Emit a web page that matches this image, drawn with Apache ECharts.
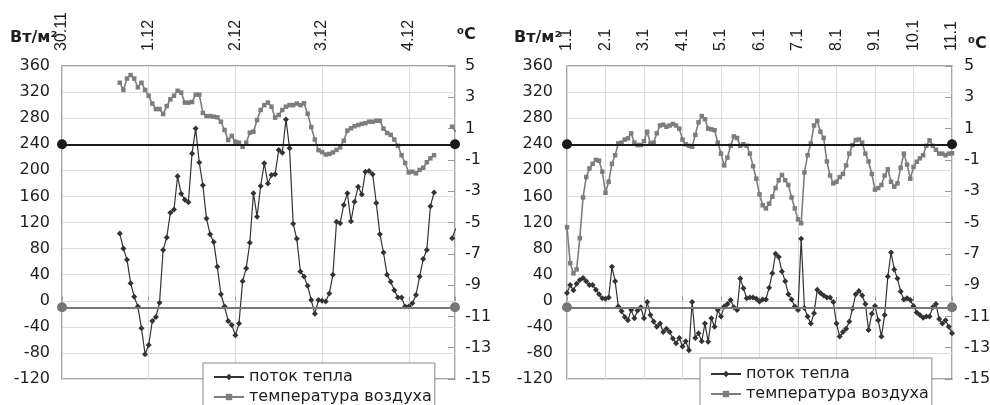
<!DOCTYPE html>
<html><head><meta charset="utf-8">
<script src="https://cdn.jsdelivr.net/npm/echarts@6/dist/echarts.min.js"></script>
<style>html,body{margin:0;padding:0;background:#fff}#c{width:990px;height:405px}</style>
</head><body><div id="c"></div>
<script>
// ---------- data: left chart (30.11 - 4.12), hourly ----------
const leftDayLabels = ['30.11', '1.12', '2.12', '3.12', '4.12'];
const leftStartHour = 16;
const leftFlux = [103,80,63,27,6,-9,-42,-82,-68,-31,-25,-3,78,97,135,140,191,164,155,151,
  226,264,212,177,126,102,90,52,10,-9,-31,-37,-53,-35,30,50,89,165,129,176,
  211,180,193,194,231,227,278,234,118,95,45,37,23,1,-20,1,0,-1,11,40,
  121,119,147,165,122,152,175,163,198,199,194,150,102,74,40,29,16,5,5,-9,
  -9,-4,9,37,64,78,145,166];
const leftTemp = [3.93,3.47,4.2,4.42,4.2,3.64,3.93,3.47,3.1,2.6,2.25,2.25,1.93,2.44,2.87,3.1,3.42,3.3,2.66,2.66,
  2.7,3.17,3.17,2.0,1.8,1.8,1.76,1.72,1.44,0.91,0.27,0.53,0.16,0.1,-0.16,0.1,0.74,0.8,1.55,2.19,
  2.5,2.66,2.4,1.7,1.87,2.19,2.4,2.5,2.5,2.6,2.5,2.62,1.95,1.1,0.3,-0.38,-0.5,-0.66,-0.62,-0.52,
  -0.36,-0.2,0.23,0.87,1.02,1.15,1.23,1.3,1.35,1.44,1.44,1.5,1.5,1.0,0.72,0.6,0.3,-0.1,-0.7,-1.2,
  -1.8,-1.75,-1.86,-1.64,-1.5,-1.15,-0.9,-0.7];
const leftTailHours = [108, 109];
const leftTailFlux = [96, 111];
const leftTailTemp = [1.12, 0.8];

// ---------- data: right chart (1.1 - 11.1), every 2 hours ----------
const rightDayLabels = ['1.1','2.1','3.1','4.1','5.1','6.1','7.1','8.1','9.1','10.1','11.1'];
const rightStepHours = 2;
const rightFlux = [12,24,16,26,32,35,30,24,24,17,
  10,4,3,5,52,30,-9,-16,-25,-30,
  -14,-27,-15,-10,-27,-2,-22,-32,-40,-35,
  -48,-43,-48,-58,-65,-57,-70,-62,-76,-2,
  -57,-50,-62,-35,-63,-27,-40,-14,-24,-9,
  -5,1,-10,-14,34,19,4,5,5,3,
  -1,2,2,20,42,72,67,45,30,10,
  2,-9,-14,95,-11,-24,-35,-19,17,12,
  8,5,5,-2,-35,-55,-48,-43,-32,-12,
  10,15,8,-5,-45,-20,-8,-30,-55,-22,
  37,74,48,34,14,2,4,1,-8,-18,
  -22,-26,-24,-24,-10,-5,-28,-35,-30,-40,
  -50];
const rightTemp = [-5.3,-7.6,-8.25,-8.0,-6.0,-3.4,-2.1,-1.55,-1.25,-1.0,
  -1.05,-1.75,-3.1,-2.4,-1.25,-0.7,0.06,0.1,0.3,0.38,
  0.7,0.1,-0.05,-0.05,0.2,0.8,0.05,0.1,0.7,1.2,
  1.25,1.12,1.2,1.3,1.2,1.0,0.3,0.0,-0.1,-0.16,
  0.6,1.4,1.8,1.6,1.0,0.95,0.9,0.1,-0.6,-1.35,
  -0.85,-0.1,0.5,0.4,-0.1,0.0,-0.1,-0.6,-1.4,-2.2,
  -3.2,-3.9,-4.1,-3.8,-3.35,-2.8,-2.3,-1.96,-2.3,-2.6,
  -3.4,-4.1,-4.8,-5.05,-1.8,-0.7,0.05,1.2,1.5,0.8,
  0.4,-1.1,-2.0,-2.5,-2.4,-2.1,-1.9,-1.35,-0.6,-0.05,
  0.27,0.3,0.1,-0.6,-1.1,-1.9,-2.9,-2.8,-2.6,-2.0,
  -1.6,-2.4,-2.71,-2.5,-1.5,-0.6,-1.3,-2.2,-1.45,-1.12,
  -0.9,-0.7,-0.1,0.25,-0.1,-0.35,-0.6,-0.6,-0.7,-0.6,
  -0.58];

const seriesNames = ['поток тепла', 'температура воздуха'];
const unitLeft = 'Вт/м²';
const unitRight = '⁰C';

// ---------- build ----------
function hourly(vals, start, step) { return vals.map((v, i) => [start + i * step, v]); }
const lFluxData = hourly(leftFlux, leftStartHour, 1)
  .concat([[leftTailHours[0] - 1, '-']])
  .concat(leftTailHours.map((h, i) => [h, leftTailFlux[i]]));
const lTempData = hourly(leftTemp, leftStartHour, 1)
  .concat([[leftTailHours[0] - 1, '-']])
  .concat(leftTailHours.map((h, i) => [h, leftTailTemp[i]]));
const rFluxData = hourly(rightFlux, 0, rightStepHours);
const rTempData = hourly(rightTemp, 0, rightStepHours);

const TXT = '#1e1e1e';
const H_FONT = 'DejaVu Sans';
const V_FONT = 'Liberation Sans';
const FLUX_COLOR = '#333333';
const TEMP_COLOR = '#7d7d7d';

function xAxisFor(gi, max, labels) {
  return {
    gridIndex: gi, type: 'value', position: 'top', min: 0, max: max, interval: 24,
    axisLine: { show: false },
    axisTick: { show: true, length: 4, lineStyle: { color: '#999' } },
    splitLine: { show: true, lineStyle: { color: '#dcdcdc', width: 1 } },
    axisLabel: {
      rotate: 90, margin: 15, color: TXT, fontSize: 16, fontFamily: V_FONT,
      showMinLabel: true, showMaxLabel: true, hideOverlap: false,
      formatter: v => (Math.abs(v % 24) < 1e-6 && labels[Math.round(v / 24)] !== undefined) ? labels[Math.round(v / 24)] : ''
    }
  };
}
function yLeft(gi, margin) {
  return {
    gridIndex: gi, type: 'value', position: 'left', min: -120, max: 360, interval: 40,
    axisLine: { show: false }, axisTick: { show: false },
    splitLine: { show: true, lineStyle: { color: '#dcdcdc', width: 1 } },
    axisLabel: { color: TXT, fontSize: 16, fontFamily: H_FONT, margin: margin,
      showMinLabel: true, showMaxLabel: true, hideOverlap: false }
  };
}
function yRight(gi, margin) {
  return {
    gridIndex: gi, type: 'value', position: 'right', min: -15, max: 5, interval: 2,
    axisLine: { show: false },
    axisTick: { show: true, inside: true, length: 7, lineStyle: { color: '#999' } },
    splitLine: { show: false },
    axisLabel: { color: TXT, fontSize: 16, fontFamily: H_FONT, margin: margin,
      showMinLabel: true, showMaxLabel: true, hideOverlap: false }
  };
}
function fluxSeries(xi, yi, data) {
  return {
    name: seriesNames[0], type: 'line', xAxisIndex: xi, yAxisIndex: yi, data: data,
    symbol: 'diamond', symbolSize: 6, connectNulls: false,
    lineStyle: { color: FLUX_COLOR, width: 1.2 }, itemStyle: { color: FLUX_COLOR },
    markLine: {
      silent: true, symbol: ['circle', 'circle'], symbolSize: 10, label: { show: false },
      lineStyle: { color: '#777', width: 2, type: 'solid' }, data: [{ yAxis: -10 }]
    },
    z: 2
  };
}
function tempSeries(xi, yi, data) {
  return {
    name: seriesNames[1], type: 'line', xAxisIndex: xi, yAxisIndex: yi, data: data,
    symbol: 'rect', symbolSize: 4.5, connectNulls: false,
    lineStyle: { color: TEMP_COLOR, width: 1.6 }, itemStyle: { color: TEMP_COLOR },
    markLine: {
      silent: true, symbol: ['circle', 'circle'], symbolSize: 10, label: { show: false },
      lineStyle: { color: '#1a1a1a', width: 2, type: 'solid' }, data: [{ yAxis: 0 }]
    },
    z: 3
  };
}
function legendAt(left, top, pad) {
  return {
    data: seriesNames, orient: 'vertical', left: left, top: top, height: 80,
    backgroundColor: '#fff', borderColor: '#888', borderWidth: 1,
    padding: pad, itemGap: 4, itemWidth: 30, itemHeight: 8,
    textStyle: { color: TXT, fontSize: 16, fontFamily: H_FONT }
  };
}
const boldTitle = 'bold 16px "DejaVu Sans"';

const chart = echarts.init(document.getElementById('c'), null, { renderer: 'canvas' });
chart.setOption({
  animation: false,
  backgroundColor: '#fff',
  grid: [
    { left: 62, top: 66, width: 393, height: 313, show: true, borderColor: '#8a8a8a', borderWidth: 1.5, backgroundColor: 'transparent', containLabel: false, outerBoundsMode: 'none' },
    { left: 567, top: 66, width: 385, height: 313, show: true, borderColor: '#8a8a8a', borderWidth: 1.5, backgroundColor: 'transparent', containLabel: false, outerBoundsMode: 'none' }
  ],
  xAxis: [xAxisFor(0, 108.8, leftDayLabels), xAxisFor(1, 240, rightDayLabels)],
  yAxis: [yLeft(0, 12), yRight(0, 10), yLeft(1, 14), yRight(1, 12)],
  legend: [legendAt(203, 363, [6, 3, 6, 10]), legendAt(700, 358, [8, 3, 6, 10])],
  series: [
    fluxSeries(0, 0, lFluxData), tempSeries(0, 1, lTempData),
    fluxSeries(1, 2, rFluxData), tempSeries(1, 3, rTempData)
  ],
  graphic: [
    { type: 'text', left: 10, top: 30, style: { text: unitLeft, font: boldTitle, fill: TXT } },
    { type: 'text', left: 457, top: 27, style: { text: unitRight, font: boldTitle, fill: TXT } },
    { type: 'text', left: 514, top: 30, style: { text: unitLeft, font: boldTitle, fill: TXT } },
    { type: 'text', left: 968, top: 36, style: { text: unitRight, font: boldTitle, fill: TXT } }
  ]
});
</script>
</body></html>
